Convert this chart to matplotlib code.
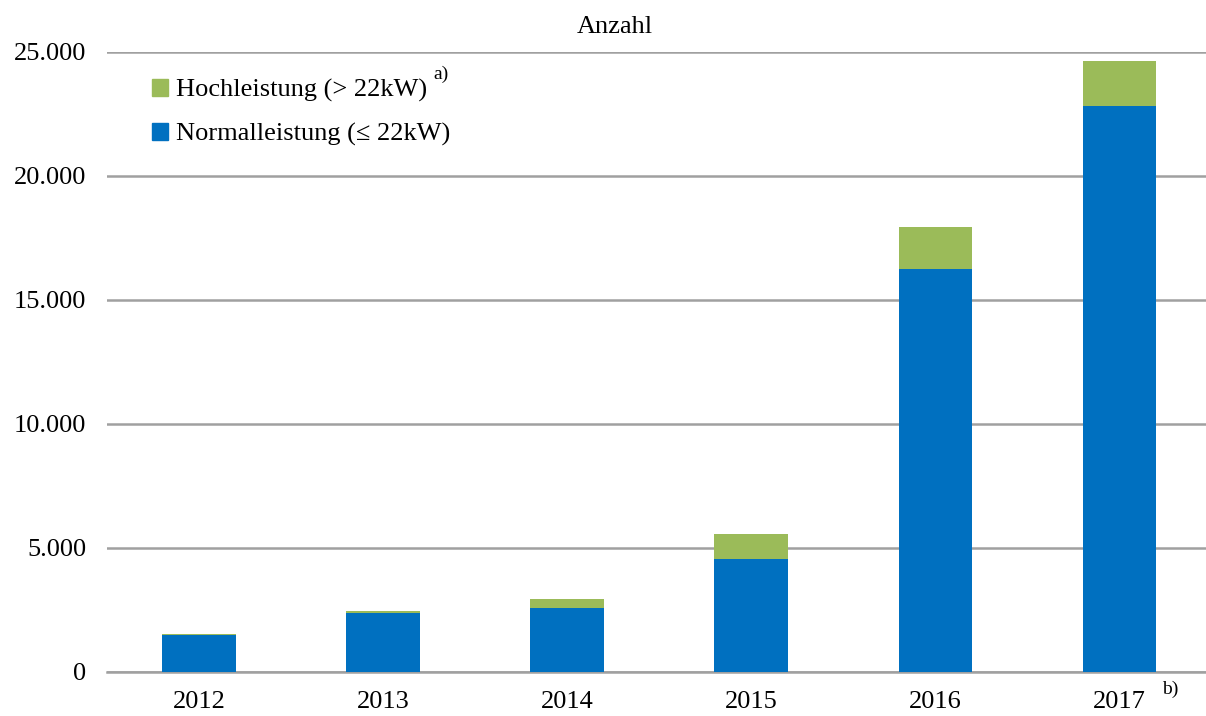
import matplotlib
matplotlib.use("Agg")
import matplotlib.pyplot as plt
from matplotlib.patches import Patch

years = ["2012", "2013", "2014", "2015", "2016", "2017"]
normal = [1510, 2390, 2590, 4570, 16250, 22830]
high = [15, 60, 340, 990, 1680, 1810]
yticks = [0, 5000, 10000, 15000, 20000, 25000]
ytick_labels = ["0", "5.000", "10.000", "15.000", "20.000", "25.000"]
label_high = "Hochleistung (> 22kW)"
label_normal = "Normalleistung (\u2264 22kW)"

plt.rcParams['font.family'] = ['Liberation Serif', 'DejaVu Serif']
W, H = 1206, 716
fig = plt.figure(figsize=(W / 100, H / 100), dpi=100)
ax = fig.add_axes([107 / W, 1 - 672 / H, (1206 - 107) / W, (672 - 52) / H])

blue = "#0070C0"
green = "#9BBB59"
x = list(range(len(years)))
ax.bar(x, normal, width=0.4, color=blue, zorder=3, label=label_normal)
ax.bar(x, high, width=0.4, bottom=normal, color=green, zorder=3, label=label_high)

ax.set_xlim(-0.5, 5.47)
ax.set_ylim(0, 25000)
ax.set_yticks(yticks)
ax.set_yticklabels(ytick_labels, fontsize=19)
ax.set_xticks(x)
ax.set_xticklabels(years, fontsize=19)
ax.tick_params(axis='both', length=0)
ax.tick_params(axis='y', pad=15)
ax.tick_params(axis='x', pad=14)
ax.grid(axis='y', color="#A0A0A0", linewidth=1.8, zorder=0)
for s in ["left", "right", "top"]:
    ax.spines[s].set_visible(False)
ax.spines["bottom"].set_color("#A0A0A0")
ax.spines["bottom"].set_linewidth(1.8)

fig.text(615 / W, 1 - 33 / H, "Anzahl", fontsize=19, ha='center', va='baseline')

handles = [Patch(color=green, label=label_high), Patch(color=blue, label=label_normal)]
leg = fig.legend(handles=handles, loc='upper left', bbox_to_anchor=(152 / W, 1 - 79 / H),
                 frameon=False, fontsize=19, handlelength=0.6, handleheight=0.6,
                 handletextpad=0.3, labelspacing=0.8, borderpad=0, borderaxespad=0)
fig.text(433 / W, 1 - 74 / H, "a)", fontsize=14, va='center', ha='left')
fig.text(1162 / W, 1 - 689 / H, "b)", fontsize=14, va='center', ha='left')

fig.savefig("out.png", dpi=100)
